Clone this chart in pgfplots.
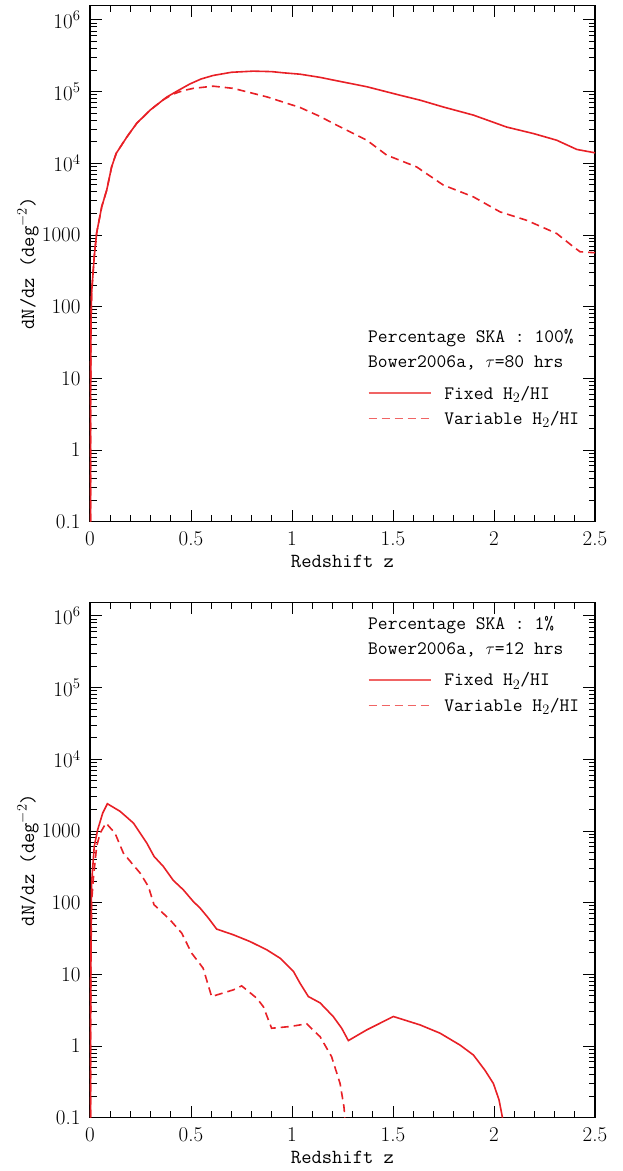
\documentclass[border=0pt]{standalone}
\usepackage{pgfplots}
\usepackage{pgfplotstable}
\pgfplotsset{compat=1.18}
\definecolor{cr}{RGB}{232,32,38}
\definecolor{lg}{RGB}{240,100,100}
\tikzset{hdr/.style={anchor=west, inner sep=0pt, text height=12pt, text depth=0pt, font=\ttfamily\fontsize{19}{22}\selectfont}}
\pgfplotsset{
  myaxis/.style={
    scale only axis, width=505pt,
    xmin=0, xmax=2.5, ymin=0.1,
    xtick={0,0.5,1,1.5,2,2.5}, xticklabels={0,0.5,1,1.5,2,2.5},
    minor x tick num=4,
    ytick={0.1,1,10,100,1000,1e4,1e5,1e6},
    yticklabels={0.1,1,10,100,1000,10\textsuperscript{4},10\textsuperscript{5},10\textsuperscript{6}},
    minor ytick={0.2,0.3,0.4,0.5,0.6,0.7,0.8,0.9,2,3,4,5,6,7,8,9,20,30,40,50,60,70,80,90,200,300,400,500,600,700,800,900,2000,3000,4000,5000,6000,7000,8000,9000,2e4,3e4,4e4,5e4,6e4,7e4,8e4,9e4,2e5,3e5,4e5,5e5,6e5,7e5,8e5,9e5},
    tick align=inside, tick pos=both,
    major tick length=12pt, minor tick length=6.5pt,
    axis line style={line width=1.4pt},
    tick style={black, line width=0.9pt},
    ticklabel style={font=\fontsize{21}{25}\selectfont},
    xticklabel style={yshift=-6pt},
    yticklabel style={xshift=-6pt},
    xlabel={Redshift z}, ylabel={dN/dz (deg$^{-2}$)},
    label style={font=\ttfamily\fontsize{20}{24}\selectfont},
    xlabel style={at={(axis description cs:0.5,-0.0891)}, anchor=base},
    ylabel style={at={(axis description cs:-0.1228,0.5)}, anchor=center},
    legend cell align=left,
    legend style={draw=none, fill=none, anchor=north west, inner sep=0pt, outer sep=0pt,
      row sep=13.5pt, column sep=13pt, font=\ttfamily\fontsize{19}{22}\selectfont,
      nodes={inner sep=0pt, text height=12pt, text depth=0pt}},
  },
}
\pgfplotstableread{
z y
0.0025 0.1
0.003 1
0.0035 10
0.005 60
0.008 155
0.021 500
0.033 1070
0.058 2470
0.083 4250
0.107 8900
0.13 13800
0.183 23400
0.231 36000
0.297 55000
0.38 84000
0.44 105000
0.495 128000
0.55 150000
0.61 168000
0.70 186000
0.808 193000
0.90 190000
0.957 183000
1.04 175000
1.139 158000
1.204 145000
1.37 117000
1.535 89000
1.634 76000
1.749 61000
1.898 47000
2.063 32000
2.195 26000
2.31 21000
2.41 15600
2.5 14000
}\topfixed
\pgfplotstableread{
z y
0.0025 0.1
0.003 1
0.0035 10
0.005 60
0.008 155
0.021 500
0.033 1070
0.058 2470
0.083 4250
0.107 8900
0.13 13800
0.183 23400
0.231 36000
0.297 55000
0.36 76000
0.41 92000
0.46 103000
0.511 111000
0.61 119000
0.709 111000
0.875 84500
1.04 60000
1.139 45000
1.204 36000
1.37 21000
1.469 13000
1.617 8900
1.749 4970
1.898 3400
2.03 2100
2.162 1600
2.31 1050
2.393 684
2.426 583
2.5 565
}\topvar
\pgfplotstableread{
z y
0.0025 0.1
0.003 1
0.004 10
0.006 60
0.008 188
0.021 610
0.038 1040
0.063 1780
0.086 2400
0.149 1880
0.215 1290
0.281 680
0.317 442
0.363 320
0.412 205
0.462 151
0.511 104
0.545 84
0.586 61
0.627 42.8
0.71 35.6
0.792 28.7
0.875 22
0.941 16.8
1.007 11
1.04 7.5
1.081 4.9
1.139 4.0
1.204 2.58
1.246 1.77
1.279 1.19
1.37 1.68
1.502 2.58
1.634 1.97
1.733 1.51
1.832 1.03
1.898 0.75
1.955 0.46
1.997 0.30
2.025 0.177
2.042 0.1
}\botfixed
\pgfplotstableread{
z y
0.0025 0.1
0.003 1
0.004 10
0.008 100
0.016 209
0.033 610
0.05 930
0.079 1290
0.124 930
0.165 493
0.206 357
0.248 259
0.289 168
0.317 93.6
0.396 57.7
0.454 37.6
0.503 19.8
0.56 12.2
0.602 4.9
0.71 6.08
0.751 6.9
0.825 4.66
0.858 3.55
0.899 1.77
0.99 1.87
1.073 2.04
1.139 1.35
1.196 0.71
1.238 0.30
1.257 0.143
1.262 0.1
}\botvar
\begin{document}
\begin{tikzpicture}
\path[use as bounding box] (0,0) rectangle (622pt,1171pt);
\begin{semilogyaxis}[myaxis, at={(90pt,649.3pt)}, anchor=south west, height=516.4pt, ymax=1.6e6,
  legend style={at={(0.5505,0.2608)}},
  legend image code/.code={\draw[#1, lg, line width=1.4pt] (0pt,0pt) -- (62pt,0pt);}]
\addplot[cr, line width=1.6pt] table[x=z,y=y] {\topfixed};
\addlegendentry{Fixed H$_2$/HI}
\addplot[cr, line width=1.6pt, dash pattern=on 8pt off 5pt] table[x=z,y=y] {\topvar};
\addlegendentry{Variable H$_2$/HI}
\node[hdr] at (rel axis cs:0.5505,0.3577) {Percentage SKA : 100\%};
\node[hdr] at (rel axis cs:0.5505,0.3094) {Bower2006a, $\tau$=80 hrs};
\end{semilogyaxis}
\begin{semilogyaxis}[myaxis, at={(90pt,53.3pt)}, anchor=south west, height=515.4pt, ymax=1.55e6,
  legend style={at={(0.5505,0.8612)}},
  legend image code/.code={\draw[#1, lg, line width=1.4pt] (0pt,0pt) -- (62pt,0pt);}]
\addplot[cr, line width=1.6pt] table[x=z,y=y] {\botfixed};
\addlegendentry{Fixed H$_2$/HI}
\addplot[cr, line width=1.6pt, dash pattern=on 8pt off 5pt] table[x=z,y=y] {\botvar};
\addlegendentry{Variable H$_2$/HI}
\node[hdr] at (rel axis cs:0.5505,0.9598) {Percentage SKA : 1\%};
\node[hdr] at (rel axis cs:0.5505,0.9094) {Bower2006a, $\tau$=12 hrs};
\end{semilogyaxis}
\end{tikzpicture}
\end{document}
